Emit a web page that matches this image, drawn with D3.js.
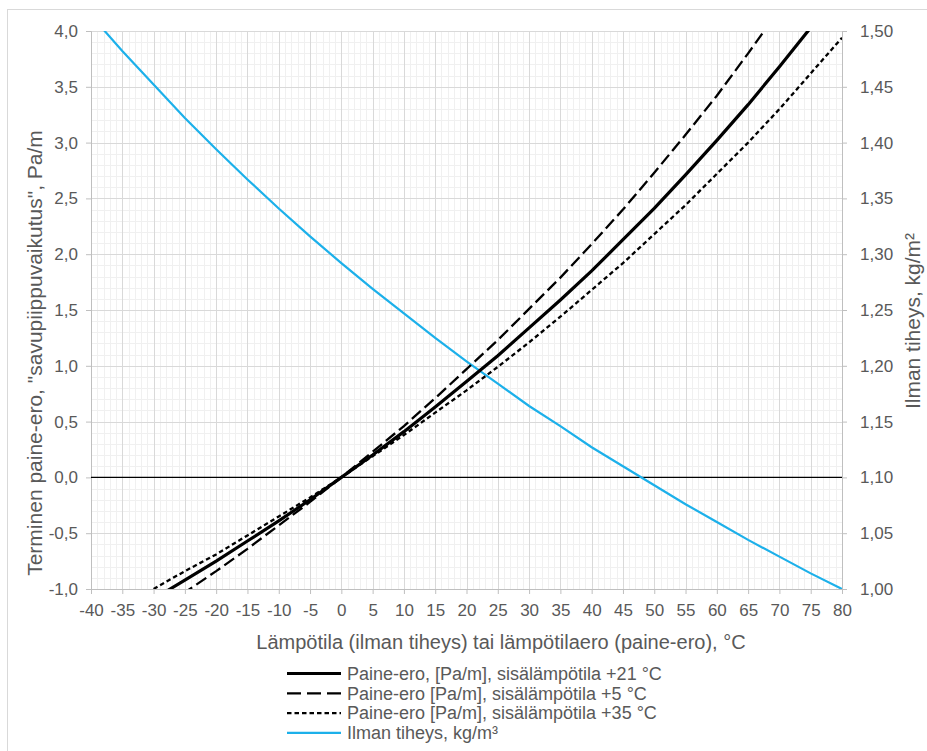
<!DOCTYPE html>
<html>
<head>
<meta charset="utf-8">
<script src="https://cdn.jsdelivr.net/npm/d3@7"></script>
<style>
  html, body { margin: 0; padding: 0; background: #fff; }
  svg { display: block; font-family: "Liberation Sans", Arial, sans-serif; }
</style>
</head>
<body>
<svg id="chart" width="927" height="751"></svg>
<script>
// Temperature / temperature difference, °C
const temps = [-30, -25, -20, -15, -10, -5, 0, 5, 10, 15, 20, 25, 30, 35, 40, 45, 50, 55, 60, 65, 70, 75, 80];

// Thermal pressure difference ("stack effect"), Pa/m, for three indoor temperatures
const dp21 = [-1.09, -0.92, -0.75, -0.57, -0.39, -0.20, 0.00, 0.20, 0.41, 0.63, 0.86, 1.09, 1.34, 1.59, 1.85, 2.13, 2.41, 2.71, 3.02, 3.34, 3.68, 4.03, 4.42];
const dp5  = [-1.21, -1.03, -0.84, -0.64, -0.43, -0.22, 0.00, 0.23, 0.46, 0.71, 0.97, 1.23, 1.51, 1.79, 2.09, 2.40, 2.73, 3.07, 3.42, 3.80, 4.19, 4.60, 5.04];
const dp35 = [-1.00, -0.84, -0.69, -0.52, -0.35, -0.18, 0.00, 0.19, 0.38, 0.58, 0.78, 0.99, 1.21, 1.44, 1.68, 1.92, 2.18, 2.44, 2.72, 3.00, 3.30, 3.62, 3.94];

// Air density, kg/m³, against temperature
const densTemps = [-40, -35, -30, -25, -20, -15, -10, -5, 0, 5, 10, 15, 20, 25, 30, 35, 40, 45, 50, 55, 60, 65, 70, 75, 80];
const density = [1.514, 1.482, 1.452, 1.422, 1.394, 1.367, 1.341, 1.316, 1.292, 1.269, 1.247, 1.225, 1.204, 1.184, 1.164, 1.146, 1.127, 1.110, 1.093, 1.076, 1.060, 1.044, 1.029, 1.014, 1.000];

// Axis ticks
const xTicks = d3.range(-40, 81, 5);
const yTicks = d3.range(-1, 4.01, 0.5);
const y2Ticks = d3.range(1.0, 1.501, 0.05);

const legendLabels = [
  "Paine-ero, [Pa/m], sisälämpötila +21 °C",
  "Paine-ero [Pa/m], sisälämpötila +5 °C",
  "Paine-ero [Pa/m], sisälämpötila +35 °C",
  "Ilman tiheys, kg/m³"
];

const svg = d3.select("#chart");
const margin = { left: 91, right: 842, top: 31, bottom: 589 };

const x = d3.scaleLinear().domain([-40, 80]).range([margin.left, margin.right]);
const y = d3.scaleLinear().domain([-1, 4]).range([margin.bottom, margin.top]);
const y2 = d3.scaleLinear().domain([1.0, 1.5]).range([margin.bottom, margin.top]);

const fmt1 = d => d3.format(".1f")(d).replace(".", ",").replace("−", "-");
const fmt2 = d => d3.format(".2f")(d).replace(".", ",").replace("−", "-");

const textColor = "#595959";
const blue = "#1cb0ea";

// Outer chart frame
svg.append("rect")
  .attr("x", 7.5).attr("y", 9.5).attr("width", 930).attr("height", 760)
  .attr("fill", "none").attr("stroke", "#d9d9d9");

// Minor gridlines
const grid = svg.append("g");
grid.selectAll(".vminor").data(d3.range(-40, 80.01, 1)).join("line")
  .attr("x1", d => Math.round(x(d)) + 0.5).attr("x2", d => Math.round(x(d)) + 0.5)
  .attr("y1", margin.top).attr("y2", margin.bottom)
  .attr("stroke", "#f0f0f0");
grid.selectAll(".hminor").data(d3.range(-1, 4.001, 0.1)).join("line")
  .attr("y1", d => Math.round(y(d)) + 0.5).attr("y2", d => Math.round(y(d)) + 0.5)
  .attr("x1", margin.left).attr("x2", margin.right)
  .attr("stroke", "#f0f0f0");
// Major gridlines
grid.selectAll(".vmajor").data(xTicks).join("line")
  .attr("x1", d => Math.round(x(d)) + 0.5).attr("x2", d => Math.round(x(d)) + 0.5)
  .attr("y1", margin.top).attr("y2", margin.bottom)
  .attr("stroke", "#d9d9d9");
grid.selectAll(".hmajor").data(yTicks).join("line")
  .attr("y1", d => Math.round(y(d)) + 0.5).attr("y2", d => Math.round(y(d)) + 0.5)
  .attr("x1", margin.left).attr("x2", margin.right)
  .attr("stroke", "#d9d9d9");

// Axes
const styleAxis = g => {
  g.select(".domain").attr("stroke", "#bfbfbf");
  g.selectAll(".tick line").attr("stroke", "#bfbfbf");
  g.selectAll(".tick text").attr("fill", textColor).attr("font-size", 17);
};

svg.append("g")
  .attr("transform", `translate(0,${margin.bottom})`)
  .call(d3.axisBottom(x).tickValues(xTicks).tickSize(5).tickPadding(10).tickFormat(d => String(d)))
  .call(styleAxis);

svg.append("g")
  .attr("transform", `translate(${margin.left},0)`)
  .call(d3.axisLeft(y).tickValues(yTicks).tickSize(5).tickPadding(8).tickFormat(fmt1))
  .call(styleAxis);

svg.append("g")
  .attr("transform", `translate(${margin.right},0)`)
  .call(d3.axisRight(y2).tickValues(y2Ticks).tickSize(5).tickPadding(13).tickFormat(fmt2))
  .call(styleAxis);

// Zero line
svg.append("line")
  .attr("x1", margin.left).attr("x2", margin.right)
  .attr("y1", y(0)).attr("y2", y(0))
  .attr("stroke", "#000").attr("stroke-width", 1.2);

// Axis titles
svg.append("text")
  .attr("transform", "translate(42,353) rotate(-90)")
  .attr("text-anchor", "middle").attr("font-size", 21).attr("fill", textColor)
  .text('Terminen paine-ero, "savupiippuvaikutus", Pa/m');

svg.append("text")
  .attr("transform", "translate(920,321) rotate(-90)")
  .attr("text-anchor", "middle").attr("font-size", 21).attr("fill", textColor)
  .text("Ilman tiheys, kg/m²");

svg.append("text")
  .attr("x", 501).attr("y", 649)
  .attr("text-anchor", "middle").attr("font-size", 20).attr("fill", textColor)
  .text("Lämpötila (ilman tiheys) tai lämpötilaero (paine-ero), °C");

// Series, clipped to the plot area
svg.append("clipPath").attr("id", "plot-clip")
  .append("rect")
  .attr("x", margin.left).attr("y", margin.top)
  .attr("width", margin.right - margin.left).attr("height", margin.bottom - margin.top);

const plot = svg.append("g").attr("clip-path", "url(#plot-clip)");
const lineP = d3.line().x(d => x(d[0])).y(d => y(d[1]));
const lineD = d3.line().x(d => x(d[0])).y(d => y2(d[1]));

const styles = [
  { color: "#000", width: 3.2, dash: null },
  { color: "#000", width: 2.3, dash: "12,5" },
  { color: "#000", width: 2.3, dash: "4.5,3" },
  { color: blue, width: 2.2, dash: null }
];

plot.append("path")
  .datum(d3.zip(densTemps, density))
  .attr("d", lineD)
  .attr("fill", "none").attr("stroke", styles[3].color).attr("stroke-width", styles[3].width);

[dp21, dp5, dp35].forEach((vals, i) => {
  plot.append("path")
    .datum(d3.zip(temps, vals))
    .attr("d", lineP)
    .attr("fill", "none").attr("stroke", styles[i].color)
    .attr("stroke-width", styles[i].width)
    .attr("stroke-dasharray", styles[i].dash);
});

// Legend
const legend = svg.append("g");
legendLabels.forEach((label, i) => {
  const ly = 673.5 + i * 19.8;
  legend.append("line")
    .attr("x1", 287).attr("x2", 341).attr("y1", ly).attr("y2", ly)
    .attr("stroke", styles[i].color)
    .attr("stroke-width", styles[i].width)
    .attr("stroke-dasharray", i === 1 ? "14,6" : styles[i].dash);
  legend.append("text")
    .attr("x", 347).attr("y", ly + 6.3)
    .attr("font-size", 18).attr("fill", textColor)
    .text(label);
});
</script>
</body>
</html>
